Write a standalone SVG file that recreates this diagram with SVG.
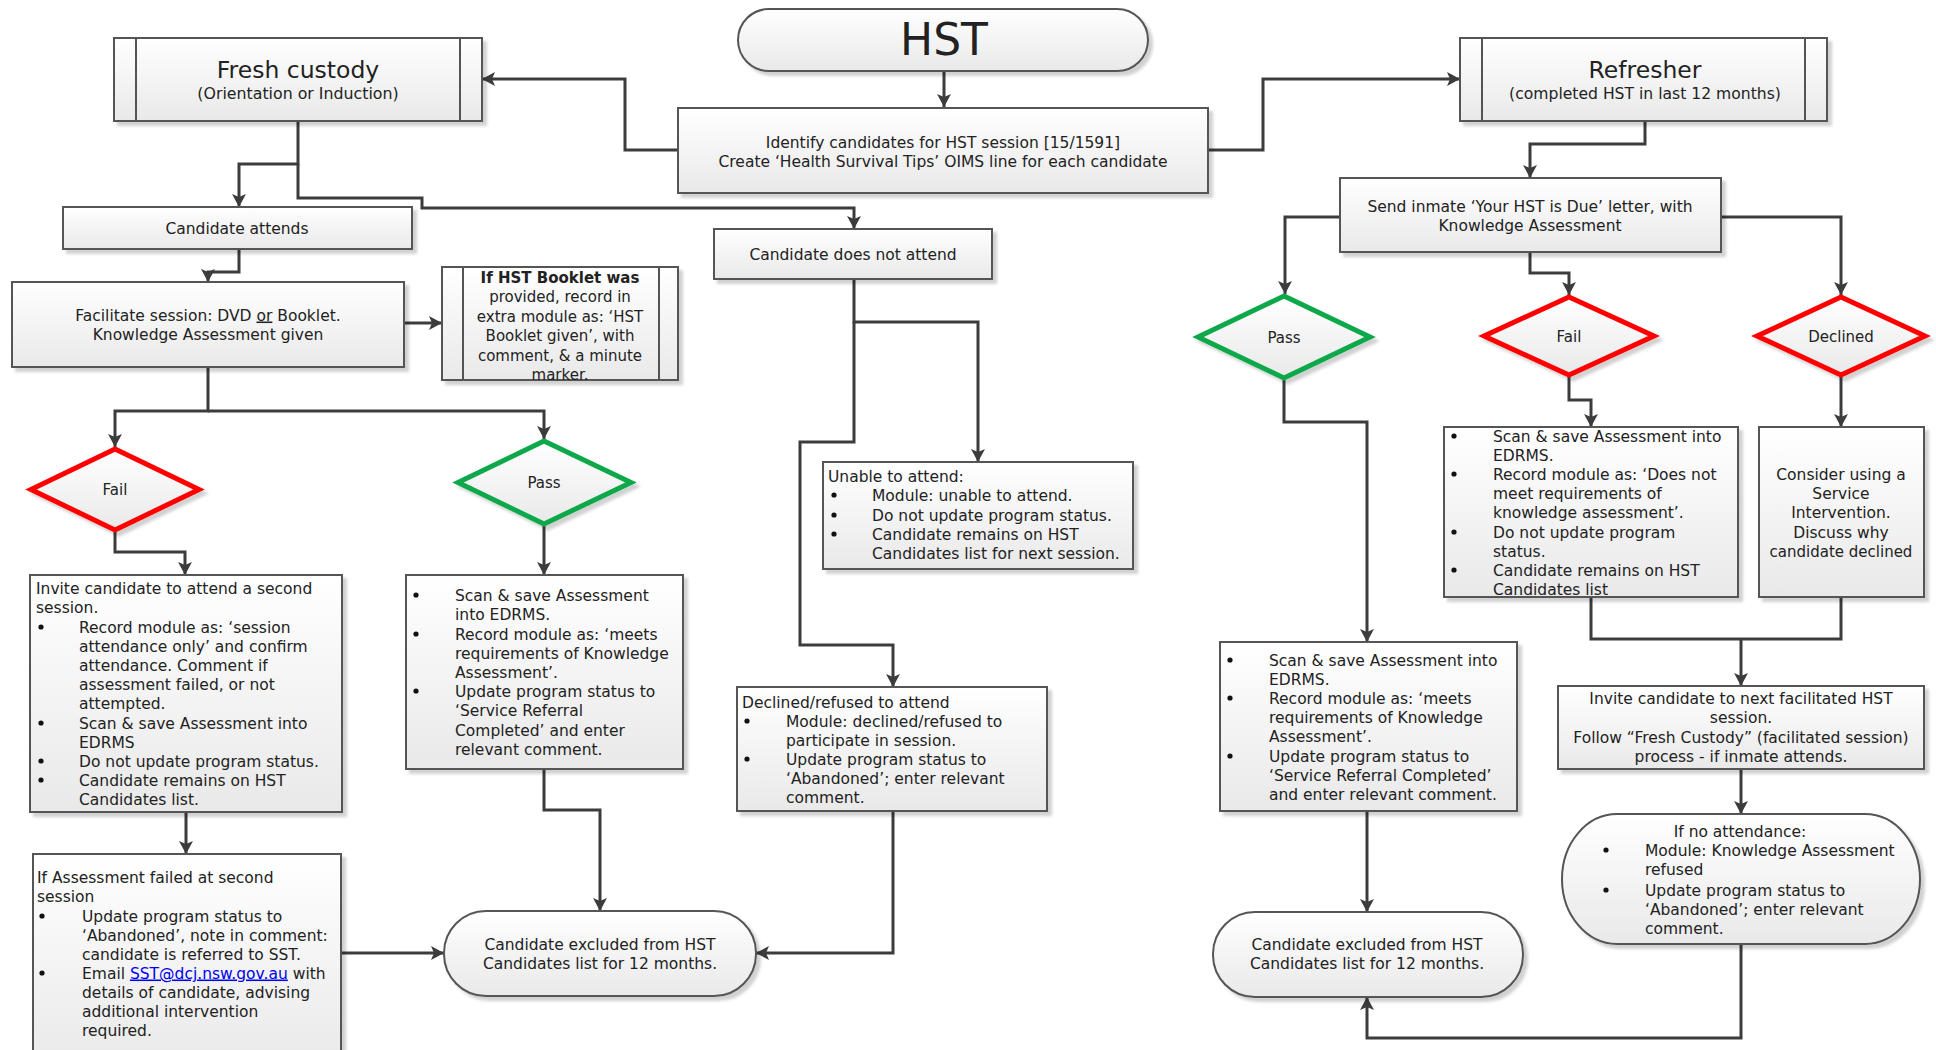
<svg xmlns="http://www.w3.org/2000/svg" width="1936" height="1050" viewBox="0 0 1936 1050">
<defs>
  <linearGradient id="g" x1="0" y1="0" x2="0" y2="1">
    <stop offset="0" stop-color="#ffffff"/>
    <stop offset="1" stop-color="#e9e9e9"/>
  </linearGradient>
  <filter id="sh" x="-10%" y="-10%" width="125%" height="130%">
    <feDropShadow dx="4" dy="4" stdDeviation="1.5" flood-color="#000" flood-opacity="0.18"/>
  </filter>
  <marker id="a" viewBox="0 0 14 14" markerWidth="14" markerHeight="14" refX="13" refY="7" orient="auto" markerUnits="userSpaceOnUse">
    <path d="M0,0 L13,7 L0,14 L3,7 z" fill="#3c3c3c"/>
  </marker>
  <style>
    .box{fill:url(#g);stroke:#545454;stroke-width:2;filter:url(#sh)}
    .pl{stroke:#545454;stroke-width:2;fill:none}
    .dr{fill:url(#g);stroke:#ff0000;stroke-width:5;filter:url(#sh)}
    .dg{fill:url(#g);stroke:#0fa84a;stroke-width:5;filter:url(#sh)}
    text{font-family:"DejaVu Sans","Liberation Sans",sans-serif;font-size:15.5px;fill:#222}
    .c{text-anchor:middle}
    .b{fill:#111}
    #connectors path{fill:none;stroke:#3c3c3c;stroke-width:3}
    .ar{marker-end:url(#a)}
  </style>
</defs>
<rect width="1936" height="1050" fill="#fff"/>

<g id="connectors">
  <path class="ar" d="M944,71 V107"/>
  <path class="ar" d="M678,150 H625 V79 H482"/>
  <path class="ar" d="M1208,150 H1263 V79 H1460"/>
  <path class="ar" d="M298,121 V164 H239 V207"/>
  <path class="ar" d="M298,164 V198 H422 V208 H854 V229"/>
  <path class="ar" d="M239,249 V272 H208 V282"/>
  <path class="ar" d="M404,323 H442"/>
  <path class="ar" d="M208,367 V411 H115 V447"/>
  <path class="ar" d="M208,411 H544 V439"/>
  <path class="ar" d="M115,532 V552 H185 V575"/>
  <path class="ar" d="M544,526 V575"/>
  <path class="ar" d="M186,812 V854"/>
  <path class="ar" d="M341,953 H444"/>
  <path class="ar" d="M544,769 V810 H600 V911"/>
  <path class="ar" d="M854,279 V322 H978 V462"/>
  <path class="ar" d="M854,322 V442 H800 V645 H893 V687"/>
  <path class="ar" d="M893,811 V953 H756"/>
  <path class="ar" d="M1645,121 V144 H1530 V178"/>
  <path class="ar" d="M1340,217 H1285 V294"/>
  <path class="ar" d="M1530,252 V273 H1569 V295"/>
  <path class="ar" d="M1721,217 H1841 V295"/>
  <path class="ar" d="M1284,380 V422 H1367 V642"/>
  <path class="ar" d="M1569,377 V400 H1591 V427"/>
  <path class="ar" d="M1841,377 V427"/>
  <path d="M1591,597 V639 H1841 V597"/>
  <path class="ar" d="M1741,639 V686"/>
  <path class="ar" d="M1741,769 V814"/>
  <path class="ar" d="M1741,944 V1038 H1367 V997"/>
  <path class="ar" d="M1367,811 V912"/>
</g>

<g id="n-hst">
  <rect class="box" x="738" y="9" width="410" height="62" rx="31" ry="31"/>
  <text class="c" x="944" y="55" style="font-size:44px">HST</text>
</g>

<g id="n-identify">
  <rect class="box" x="678" y="108" width="530" height="85"/>
  <text class="c" x="943" y="147.5">Identify candidates for HST session [15/1591]</text>
  <text class="c" x="943" y="166.5">Create ‘Health Survival Tips’ OIMS line for each candidate</text>
</g>

<g id="n-fresh">
  <rect class="box" x="114" y="38" width="368" height="83"/>
  <path class="pl" d="M136,38 V121 M460,38 V121"/>
  <text class="c" x="298" y="78" style="font-size:23.5px">Fresh custody</text>
  <text class="c" x="298" y="99" style="font-size:15.8px">(Orientation or Induction)</text>
</g>

<g id="n-refresher">
  <rect class="box" x="1460" y="38" width="367" height="83"/>
  <path class="pl" d="M1482,38 V121 M1805,38 V121"/>
  <text class="c" x="1645" y="78" style="font-size:23.5px">Refresher</text>
  <text class="c" x="1645" y="99" style="font-size:15.6px">(completed HST in last 12 months)</text>
</g>

<g id="n-attends">
  <rect class="box" x="63" y="207" width="349" height="42"/>
  <text class="c" x="237" y="233.5">Candidate attends</text>
</g>

<g id="n-notattend">
  <rect class="box" x="714" y="229" width="278" height="50"/>
  <text class="c" x="853" y="259.5">Candidate does not attend</text>
</g>

<g id="n-facilitate">
  <rect class="box" x="12" y="282" width="392" height="85"/>
  <text class="c" x="208" y="320.5">Facilitate session: DVD <tspan text-decoration="underline">or</tspan> Booklet.</text>
  <text class="c" x="208" y="339.5">Knowledge Assessment given</text>
</g>

<g id="n-booklet">
  <rect class="box" x="442" y="267" width="236" height="113"/>
  <path class="pl" d="M463,267 V380 M659,267 V380"/>
  <text class="c" x="560" y="283" style="font-size:15px;font-weight:bold">If HST Booklet was</text>
  <text class="c" x="560" y="302.4" style="font-size:15px">provided, record in</text>
  <text class="c" x="560" y="321.8" style="font-size:15px">extra module as: ‘HST</text>
  <text class="c" x="560" y="341.2" style="font-size:15px">Booklet given’, with</text>
  <text class="c" x="560" y="360.6" style="font-size:15px">comment, &amp; a minute</text>
  <text class="c" x="560" y="380" style="font-size:15px">marker.</text>
</g>

<g id="n-fail-l">
  <polygon class="dr" points="115,449 199,489.5 115,530 31,489.5"/>
  <text class="c" x="115" y="494.5" style="font-size:15px">Fail</text>
</g>

<g id="n-pass-l">
  <polygon class="dg" points="544,441 631,482.5 544,524 458,482.5"/>
  <text class="c" x="544" y="488" style="font-size:15px">Pass</text>
</g>

<g id="n-invite2">
  <rect class="box" x="30" y="575" width="312" height="237"/>
  <text x="36" y="593.5">Invite candidate to attend a second</text>
  <text x="36" y="612.5">session.</text>
  <circle class="b" cx="41" cy="627" r="2.6"/>
  <text x="79" y="632.5">Record module as: ‘session</text>
  <text x="79" y="651.5">attendance only’ and confirm</text>
  <text x="79" y="670.5">attendance. Comment if</text>
  <text x="79" y="689.5">assessment failed, or not</text>
  <text x="79" y="708.5">attempted.</text>
  <circle class="b" cx="41" cy="723" r="2.6"/>
  <text x="79" y="728.5">Scan &amp; save Assessment into</text>
  <text x="79" y="747.5">EDRMS</text>
  <circle class="b" cx="41" cy="761" r="2.6"/>
  <text x="79" y="766.5">Do not update program status.</text>
  <circle class="b" cx="41" cy="780" r="2.6"/>
  <text x="79" y="785.5">Candidate remains on HST</text>
  <text x="79" y="804.5">Candidates list.</text>
</g>

<g id="n-scan-l">
  <rect class="box" x="406" y="575" width="277" height="194"/>
  <circle class="b" cx="416" cy="595" r="2.6"/>
  <text x="455" y="600.5">Scan &amp; save Assessment</text>
  <text x="455" y="619.5">into EDRMS.</text>
  <circle class="b" cx="416" cy="634" r="2.6"/>
  <text x="455" y="639.5">Record module as: ‘meets</text>
  <text x="455" y="658.5">requirements of Knowledge</text>
  <text x="455" y="677.5">Assessment’.</text>
  <circle class="b" cx="416" cy="691" r="2.6"/>
  <text x="455" y="696.5">Update program status to</text>
  <text x="455" y="715.5">‘Service Referral</text>
  <text x="455" y="735.5">Completed’ and enter</text>
  <text x="455" y="754.5">relevant comment.</text>
</g>

<g id="n-failed2">
  <rect class="box" x="33" y="854" width="308" height="215"/>
  <text x="37" y="882.5">If Assessment failed at second</text>
  <text x="37" y="901.5">session</text>
  <circle class="b" cx="42" cy="916" r="2.6"/>
  <text x="82" y="921.5">Update program status to</text>
  <text x="82" y="940.5">‘Abandoned’, note in comment:</text>
  <text x="82" y="959.5">candidate is referred to SST.</text>
  <circle class="b" cx="42" cy="973" r="2.6"/>
  <text x="82" y="978.5">Email <tspan fill="#0000ee" text-decoration="underline">SST@dcj.nsw.gov.au</tspan> with</text>
  <text x="82" y="997.5">details of candidate, advising</text>
  <text x="82" y="1016.5">additional intervention</text>
  <text x="82" y="1035.5">required.</text>
</g>

<g id="n-excluded-l">
  <rect class="box" x="444" y="911" width="312" height="85" rx="42" ry="42"/>
  <text class="c" x="600" y="949.5">Candidate excluded from HST</text>
  <text class="c" x="600" y="968.5">Candidates list for 12 months.</text>
</g>

<g id="n-unable">
  <rect class="box" x="823" y="462" width="310" height="107"/>
  <text x="828" y="481.5">Unable to attend:</text>
  <circle class="b" cx="834" cy="495" r="2.6"/>
  <text x="872" y="500.5">Module: unable to attend.</text>
  <circle class="b" cx="834" cy="515" r="2.6"/>
  <text x="872" y="520.5">Do not update program status.</text>
  <circle class="b" cx="834" cy="534" r="2.6"/>
  <text x="872" y="539.5">Candidate remains on HST</text>
  <text x="872" y="558.5">Candidates list for next session.</text>
</g>

<g id="n-declined-refused">
  <rect class="box" x="737" y="687" width="310" height="124"/>
  <text x="742" y="707.5">Declined/refused to attend</text>
  <circle class="b" cx="747" cy="721" r="2.6"/>
  <text x="786" y="726.5">Module: declined/refused to</text>
  <text x="786" y="745.5">participate in session.</text>
  <circle class="b" cx="747" cy="759" r="2.6"/>
  <text x="786" y="764.5">Update program status to</text>
  <text x="786" y="783.5">‘Abandoned’; enter relevant</text>
  <text x="786" y="802.5">comment.</text>
</g>

<g id="n-send">
  <rect class="box" x="1340" y="178" width="381" height="74"/>
  <text class="c" x="1530" y="211.5">Send inmate ‘Your HST is Due’ letter, with</text>
  <text class="c" x="1530" y="230.5">Knowledge Assessment</text>
</g>

<g id="n-pass-r">
  <polygon class="dg" points="1284,296 1370,337 1284,378 1198,337"/>
  <text class="c" x="1284" y="342.5" style="font-size:15px">Pass</text>
</g>

<g id="n-fail-r">
  <polygon class="dr" points="1569,297 1654,336 1569,375 1484,336"/>
  <text class="c" x="1569" y="341.5" style="font-size:15px">Fail</text>
</g>

<g id="n-declined">
  <polygon class="dr" points="1841,297 1925,336 1841,375 1757,336"/>
  <text class="c" x="1841" y="342" style="font-size:15px">Declined</text>
</g>

<g id="n-scan-r">
  <rect class="box" x="1220" y="642" width="297" height="169"/>
  <circle class="b" cx="1230" cy="660" r="2.6"/>
  <text x="1269" y="665.5">Scan &amp; save Assessment into</text>
  <text x="1269" y="684.5">EDRMS.</text>
  <circle class="b" cx="1230" cy="698" r="2.6"/>
  <text x="1269" y="703.5">Record module as: ‘meets</text>
  <text x="1269" y="722.5">requirements of Knowledge</text>
  <text x="1269" y="741.5">Assessment’.</text>
  <circle class="b" cx="1230" cy="756" r="2.6"/>
  <text x="1269" y="761.5">Update program status to</text>
  <text x="1269" y="780.5">‘Service Referral Completed’</text>
  <text x="1269" y="799.5">and enter relevant comment.</text>
</g>

<g id="n-excluded-r">
  <rect class="box" x="1213" y="912" width="310" height="85" rx="42" ry="42"/>
  <text class="c" x="1367" y="949.5">Candidate excluded from HST</text>
  <text class="c" x="1367" y="968.5">Candidates list for 12 months.</text>
</g>

<g id="n-scan-fail-r">
  <rect class="box" x="1444" y="427" width="294" height="170"/>
  <circle class="b" cx="1454" cy="436" r="2.6"/>
  <text x="1493" y="441.5">Scan &amp; save Assessment into</text>
  <text x="1493" y="460.5">EDRMS.</text>
  <circle class="b" cx="1454" cy="474" r="2.6"/>
  <text x="1493" y="479.5">Record module as: ‘Does not</text>
  <text x="1493" y="498.5">meet requirements of</text>
  <text x="1493" y="517.5">knowledge assessment’.</text>
  <circle class="b" cx="1454" cy="532" r="2.6"/>
  <text x="1493" y="537.5">Do not update program</text>
  <text x="1493" y="556.5">status.</text>
  <circle class="b" cx="1454" cy="570" r="2.6"/>
  <text x="1493" y="575.5">Candidate remains on HST</text>
  <text x="1493" y="594.5">Candidates list</text>
</g>

<g id="n-consider">
  <rect class="box" x="1759" y="427" width="165" height="170"/>
  <text class="c" x="1841" y="479.5">Consider using a</text>
  <text class="c" x="1841" y="498.5">Service</text>
  <text class="c" x="1841" y="517.5">Intervention.</text>
  <text class="c" x="1841" y="537.5">Discuss why</text>
  <text class="c" x="1841" y="556.5" style="font-size:15px">candidate declined</text>
</g>

<g id="n-invite-next">
  <rect class="box" x="1558" y="686" width="366" height="83"/>
  <text class="c" x="1741" y="703.5">Invite candidate to next facilitated HST</text>
  <text class="c" x="1741" y="722.5">session.</text>
  <text class="c" x="1741" y="742.5">Follow “Fresh Custody” (facilitated session)</text>
  <text class="c" x="1741" y="761.5">process - if inmate attends.</text>
</g>

<g id="n-noattend">
  <rect class="box" x="1562" y="814" width="358" height="130" rx="55" ry="65"/>
  <text class="c" x="1740" y="836.5">If no attendance:</text>
  <circle class="b" cx="1606" cy="850" r="2.6"/>
  <text x="1645" y="855.5">Module: Knowledge Assessment</text>
  <text x="1645" y="874.5">refused</text>
  <circle class="b" cx="1606" cy="890" r="2.6"/>
  <text x="1645" y="895.5">Update program status to</text>
  <text x="1645" y="914.5">‘Abandoned’; enter relevant</text>
  <text x="1645" y="933.5">comment.</text>
</g>
</svg>
